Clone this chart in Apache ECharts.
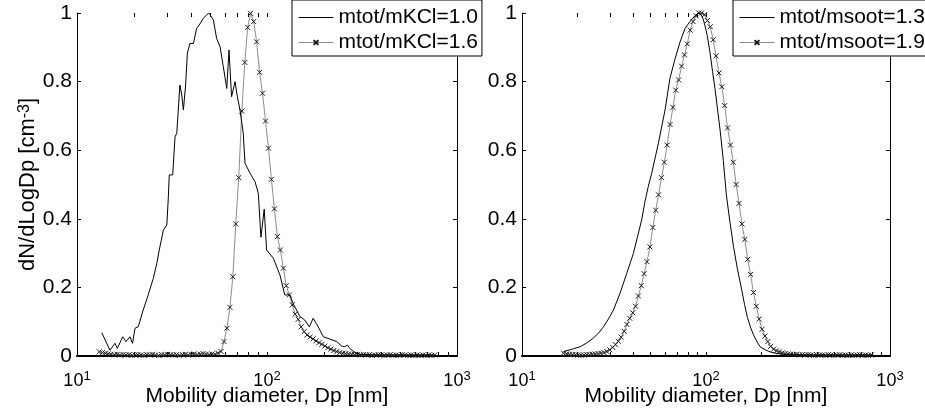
<!DOCTYPE html>
<html>
<head>
<meta charset="utf-8">
<script src="https://cdn.jsdelivr.net/npm/echarts@6/dist/echarts.min.js"></script>
<style>
  html, body { margin: 0; padding: 0; background: #fff; }
  #chart { width: 925px; height: 416px; }
</style>
</head>
<body>
<div id="chart"></div>
<script>
// ---- data ----
const leftNames = ["mtot/mKCl=1.0", "mtot/mKCl=1.6"];
const rightNames = ["mtot/msoot=1.3", "mtot/msoot=1.9"];

// left panel, solid line (no markers)
const kcl10Dp = [13.5, 14.9, 15.85, 16.3, 17.4, 18.1, 19.0, 19.6, 20.2, 21.0, 22.3, 23.7, 25.2, 26.3, 27.1, 28.5, 29.7, 30.2, 30.6, 31.9,
  32.8, 33.5, 34.8, 35.6, 36.3, 37.3, 38.1, 39.3, 41.0, 42.6, 44.0, 46.2, 48.2, 49.4, 50.6, 52.2, 54.3, 56.6, 58.9, 61.4,
  63.1, 63.8, 65.1, 67.9, 69.8, 72.1, 75.0, 76.6, 81.4, 86.5, 90.0, 92.9, 96.7, 99.5, 108, 117, 124, 132, 137, 149,
  158, 167, 175, 179, 186, 198, 215, 233, 247, 257, 265, 273, 290, 308, 350, 400, 500, 600, 763];
const kcl10N = [0.068, 0.017, 0.037, 0.022, 0.056, 0.042, 0.056, 0.037, 0.081, 0.085, 0.134, 0.178, 0.226, 0.27, 0.309, 0.367, 0.382, 0.455, 0.528, 0.528,
  0.639, 0.649, 0.79, 0.761, 0.717, 0.79, 0.883, 0.911, 0.911, 0.955, 0.965, 0.984, 0.995, 1.0, 0.997, 0.98, 0.926, 0.902, 0.843, 0.78,
  0.892, 0.843, 0.756, 0.80, 0.756, 0.717, 0.649, 0.562, 0.533, 0.508, 0.474, 0.346, 0.428, 0.309, 0.285, 0.236, 0.178, 0.178, 0.154, 0.115,
  0.105, 0.085, 0.110, 0.115, 0.085, 0.056, 0.049, 0.042, 0.029, 0.027, 0.032, 0.022, 0.010, 0.005, 0.004, 0.003, 0.003, 0.003, 0.003];

// left panel, marker line (SMPS bins)
const kclBins = [13.1, 13.6, 14.1, 14.6, 15.1, 15.7, 16.3, 16.8, 17.5, 18.1,
  18.8, 19.5, 20.2, 20.9, 21.7, 22.5, 23.3, 24.1, 25.0, 25.9,
  26.9, 27.9, 28.9, 30.0, 31.1, 32.2, 33.4, 34.6, 35.9, 37.2,
  38.5, 40.0, 41.4, 42.9, 44.5, 46.1, 47.8, 49.6, 51.4, 53.3,
  55.2, 57.3, 59.4, 61.5, 63.8, 66.1, 68.5, 71.0, 73.7, 76.4,
  79.1, 82.0, 85.1, 88.2, 91.4, 94.7, 98.2, 101.8, 105.5, 109.4,
  113.4, 117.6, 121.9, 126.3, 131.0, 135.8, 140.7, 145.9, 151.2, 156.8,
  162.5, 168.5, 174.7, 181.1, 187.7, 194.6, 201.7, 209.1, 216.7, 224.7,
  232.9, 241.4, 250.3, 259.5, 269.0, 278.8, 289.0, 299.6, 310.6, 322.0,
  333.8, 346.0, 358.7, 371.8, 385.4, 399.5, 414.2, 429.4, 445.1, 461.4,
  478.3, 495.8, 514.0, 532.8, 552.3, 572.5, 593.5, 615.3, 637.8, 661.2,
  685.4, 710.5, 736.5, 763.5];
const kcl16N = [0.012, 0.010, 0.008, 0.006, 0.005, 0.004, 0.005, 0.003, 0.004, 0.003,
  0.004, 0.002, 0.003, 0.004, 0.003, 0.002, 0.004, 0.003, 0.005, 0.003,
  0.002, 0.004, 0.003, 0.005, 0.004, 0.003, 0.004, 0.002, 0.004, 0.005,
  0.003, 0.004, 0.006, 0.004, 0.005, 0.007, 0.005, 0.004, 0.006, 0.005,
  0.008, 0.013, 0.042, 0.081, 0.142, 0.231, 0.385, 0.520, 0.714, 0.856,
  0.958, 0.999, 0.975, 0.916, 0.827, 0.766, 0.685, 0.606, 0.515, 0.429,
  0.348, 0.309, 0.256, 0.205, 0.178, 0.149, 0.122, 0.107, 0.085, 0.071,
  0.061, 0.055, 0.050, 0.044, 0.039, 0.034, 0.029, 0.024, 0.020, 0.016,
  0.013, 0.010, 0.008, 0.007, 0.006, 0.005, 0.004, 0.005, 0.003, 0.004,
  0.003, 0.004, 0.002, 0.003, 0.004, 0.003, 0.002, 0.003, 0.004, 0.002,
  0.003, 0.002, 0.004, 0.003, 0.002, 0.003, 0.002, 0.003, 0.002, 0.003,
  0.002, 0.003, 0.002, 0.003];

// right panel, solid line
const soot13Dp = [16.8, 18.5, 20.7, 22.5, 24.4, 26.0, 27.7, 29.5, 31.4, 34.1, 37.1, 40.3, 42.9, 44.7, 46.6, 48.6, 50.7, 55.1, 59.9, 63.7,
  67.8, 72.2, 76.9, 81.8, 85.0, 87.1, 89.0, 90.8, 93.5, 96.6, 98.8, 101.5, 105.1, 108.5, 111.9, 115.5, 119.2, 124.2, 129.0, 135.0,
  141.0, 148.0, 156.0, 162.0, 168.0, 175.0, 181.0, 190.0, 197.0, 210.0, 223.0, 240.0, 253.0, 280.0, 350.0, 450.0, 600.0, 800.0];
const soot13N = [0.013, 0.019, 0.027, 0.038, 0.052, 0.066, 0.085, 0.108, 0.134, 0.183, 0.241, 0.299, 0.358, 0.397, 0.450, 0.495, 0.533, 0.620, 0.717, 0.810,
  0.865, 0.915, 0.955, 0.975, 0.985, 0.992, 0.997, 1.0, 0.998, 0.982, 0.962, 0.935, 0.885, 0.83, 0.78, 0.72, 0.66, 0.57, 0.47, 0.39,
  0.32, 0.255, 0.195, 0.150, 0.112, 0.082, 0.062, 0.040, 0.027, 0.018, 0.012, 0.008, 0.006, 0.004, 0.003, 0.003, 0.003, 0.003];

// right panel, marker line
const sootBins = [16.8, 17.5, 18.1, 18.8, 19.5, 20.2, 20.9, 21.7, 22.5, 23.3,
  24.1, 25.0, 25.9, 26.9, 27.9, 28.9, 30.0, 31.1, 32.2, 33.4,
  34.6, 35.9, 37.2, 38.5, 40.0, 41.4, 42.9, 44.5, 46.1, 47.8,
  49.6, 51.4, 53.3, 55.2, 57.3, 59.4, 61.5, 63.8, 66.1, 68.5,
  71.0, 73.7, 76.4, 79.1, 82.0, 85.1, 88.2, 91.4, 94.7, 98.2,
  101.8, 105.5, 109.4, 113.4, 117.6, 121.9, 126.3, 131.0, 135.8, 140.7,
  145.9, 151.2, 156.8, 162.5, 168.5, 174.7, 181.1, 187.7, 194.6, 201.7,
  209.1, 216.7, 224.7, 232.9, 241.4, 250.3, 259.5, 269.0, 278.8, 289.0,
  299.6, 310.6, 322.0, 333.8, 346.0, 358.7, 371.8, 385.4, 399.5, 414.2,
  429.4, 445.1, 461.4, 478.3, 495.8, 514.0, 532.8, 552.3, 572.5, 593.5,
  615.3, 637.8, 661.2, 685.4, 710.5, 736.5, 763.5, 791.5];
const soot19N = [0.008, 0.006, 0.005, 0.004, 0.004, 0.003, 0.003, 0.003, 0.004, 0.004,
  0.005, 0.006, 0.007, 0.008, 0.010, 0.013, 0.018, 0.025, 0.033, 0.043,
  0.055, 0.072, 0.092, 0.110, 0.126, 0.145, 0.175, 0.205, 0.240, 0.275,
  0.318, 0.375, 0.425, 0.470, 0.520, 0.565, 0.615, 0.675, 0.725, 0.775,
  0.805, 0.845, 0.878, 0.910, 0.950, 0.975, 0.992, 1.0, 1.0, 0.995,
  0.978, 0.960, 0.922, 0.875, 0.825, 0.785, 0.730, 0.665, 0.615, 0.565,
  0.500, 0.445, 0.385, 0.340, 0.282, 0.238, 0.185, 0.145, 0.108, 0.078,
  0.058, 0.042, 0.028, 0.020, 0.015, 0.012, 0.009, 0.007, 0.006, 0.005,
  0.004, 0.005, 0.003, 0.004, 0.003, 0.004, 0.003, 0.002, 0.004, 0.003,
  0.003, 0.002, 0.004, 0.003, 0.002, 0.003, 0.004, 0.002, 0.003, 0.002,
  0.003, 0.002, 0.003, 0.004, 0.002, 0.003, 0.002, 0.003];

// axis ticks / labels
const xMajor = [10, 100, 1000];
const xExp = ["1", "2", "3"];
const xTicks = [10, 20, 30, 40, 50, 60, 70, 80, 90, 100, 200, 300, 400, 500, 600, 700, 800, 900, 1000];
const xTitle = "Mobility diameter, Dp [nm]";
const yTitle = "dN/dLogDp [cm{s|-3}]";

const FONT = "Liberation Sans, Arial, sans-serif";
const xMark = "path://M0,0L10,10M10,0L0,10";

const zip = (xs, ys) => xs.map((x, i) => [x, ys[i]]);

// data axes (log) carry the labels; tick rows are drawn on plain value axes in log10 space
function xAxes(gi) {
  const logBase = {
    type: "log", logBase: 10, min: 10, max: 1000, gridIndex: gi,
    axisLine: { lineStyle: { color: "#000", width: 1 } },
    axisTick: { show: false },
    splitLine: { show: false }
  };
  const tickBase = {
    type: "value", min: 1, max: 3, gridIndex: gi,
    axisLine: { show: false },
    axisLabel: { show: false },
    axisTick: { show: true, inside: true, length: 4, customValues: xTicks.map(Math.log10), lineStyle: { color: "#000" } },
    splitLine: { show: false }
  };
  return [
    Object.assign({}, logBase, {
      position: "bottom",
      name: xTitle, nameLocation: "middle", nameGap: 30, nameMoveOverlap: false,
      nameTextStyle: { fontSize: 21, color: "#000", fontFamily: FONT },
      axisLabel: {
        customValues: xMajor, margin: 14, color: "#000", fontFamily: FONT,
        formatter: v => "{b|10}{s|" + xExp[xMajor.indexOf(v)] + "}",
        rich: {
          b: { fontSize: 18, lineHeight: 20, verticalAlign: "bottom", fontFamily: FONT, color: "#000" },
          s: { fontSize: 13, verticalAlign: "top", fontFamily: FONT, color: "#000" }
        }
      }
    }),
    Object.assign({}, logBase, {
      position: "top", axisLabel: { show: false },
      axisLine: { lineStyle: { color: "#000", width: 2 } }
    }),
    Object.assign({}, tickBase, { position: "bottom" }),
    Object.assign({}, tickBase, { position: "top" })
  ];
}

function yAxes(gi) {
  const base = {
    type: "value", min: 0, max: 1, interval: 0.2, gridIndex: gi,
    axisLine: { show: true, lineStyle: { color: "#000", width: 1 } },
    axisTick: { show: true, inside: true, length: 4, lineStyle: { color: "#000" } },
    splitLine: { show: false }
  };
  return [
    Object.assign({}, base, {
      position: "left",
      axisLabel: { fontSize: 21, color: "#000", margin: 5, fontFamily: FONT },
      name: gi === 0 ? yTitle : "", nameLocation: "middle", nameGap: 38, nameRotate: 90, nameMoveOverlap: false,
      nameTextStyle: {
        fontSize: 22, color: "#000", fontFamily: FONT,
        rich: { s: { fontSize: 16, verticalAlign: "top", fontFamily: FONT, color: "#000" } }
      }
    }),
    Object.assign({}, base, { position: "right", axisLabel: { show: false } })
  ];
}

function legend(left, names) {
  return {
    left: left, top: 0, orient: "vertical",
    data: names,
    padding: [7, 4, 3, 6], itemGap: 4,
    itemWidth: 35, itemHeight: 6,
    backgroundColor: "#fff", borderColor: "#000", borderWidth: 1, borderRadius: 0,
    lineStyle: { width: 1 },
    textStyle: { fontSize: 21, color: "#000", fontFamily: FONT },
    z: 10
  };
}

function solid(name, ax, data) {
  return {
    name: name, type: "line", xAxisIndex: ax, yAxisIndex: ax, data: data,
    symbol: "circle", showSymbol: false,
    lineStyle: { color: "#000", width: 1 }, itemStyle: { color: "rgba(0,0,0,0)" },
    z: 3
  };
}

function marked(name, ax, data) {
  return {
    name: name, type: "line", xAxisIndex: ax, yAxisIndex: ax, data: data,
    symbol: xMark, symbolSize: 5, showAllSymbol: true,
    lineStyle: { color: "#8c8c8c", width: 1 },
    itemStyle: { color: "#1a1a1a", borderColor: "#1a1a1a", borderWidth: 1 },
    z: 2
  };
}

const chart = echarts.init(document.getElementById("chart"), null, { renderer: "canvas" });
chart.setOption({
  animation: false,
  backgroundColor: "#fff",
  textStyle: { fontFamily: FONT },
  grid: [
    { left: 77, top: 13, width: 380, height: 343, containLabel: false, outerBoundsMode: "none" },
    { left: 522, top: 13, width: 368, height: 343, containLabel: false, outerBoundsMode: "none" }
  ],
  legend: [legend(292, leftNames), legend(733, rightNames)],
  xAxis: [...xAxes(0), ...xAxes(1)],
  yAxis: [...yAxes(0), ...yAxes(1)],
  series: [
    solid(leftNames[0], 0, zip(kcl10Dp, kcl10N)),
    marked(leftNames[1], 0, zip(kclBins, kcl16N)),
    solid(rightNames[0], 4, zip(soot13Dp, soot13N)),
    marked(rightNames[1], 4, zip(sootBins, soot19N))
  ].map(s => Object.assign(s, { yAxisIndex: s.xAxisIndex === 0 ? 0 : 2 }))
});
</script>
</body>
</html>
